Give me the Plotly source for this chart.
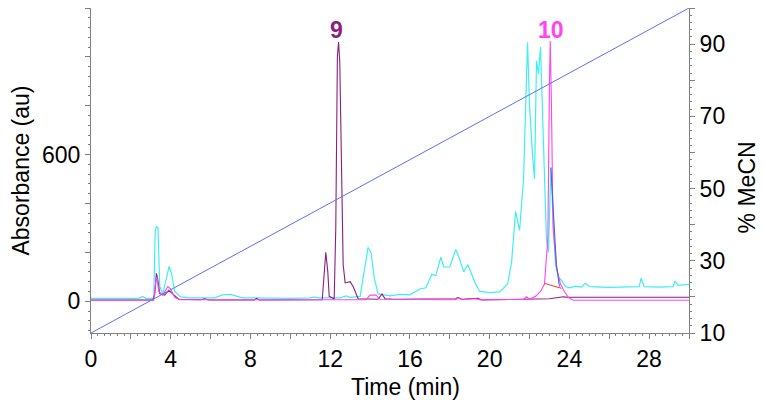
import plotly.graph_objects as go

# ---------------- data ----------------
cyan_t = [0, 2.4, 2.6, 2.75, 3.15, 3.22, 3.28, 3.36, 3.45, 3.6, 3.8, 3.92, 4.05, 4.2, 4.5, 5.0,
          6.2, 6.6, 7.0, 7.3, 7.6, 10.0, 11.0, 11.2, 11.4, 12.5, 12.8, 13.0, 13.5, 13.7, 13.9,
          14.05, 14.2, 14.4, 15.0, 15.5, 16.0, 16.5, 16.8, 17.1, 17.3, 17.55, 17.7, 18.0, 18.3,
          18.5, 18.7, 18.9, 19.1, 19.3, 19.5, 20.0, 20.5, 20.7, 20.9, 21.1, 21.3, 21.5, 21.7,
          21.9, 22.0, 22.15, 22.25, 22.35, 22.45, 22.55, 22.65, 22.75, 22.85, 22.95, 23.07,
          23.15, 23.3, 23.45, 23.6, 23.8, 24.0, 24.3, 24.6, 24.8, 25.0, 26.0, 27.0, 27.5, 27.6,
          27.75, 28.5, 29.2, 29.3, 29.45, 30.0]
cyan_v = [12, 12, 20, 12, 12, 290, 305, 300, 60, 30, 100, 143, 110, 40, 18, 14,
          14, 26, 28, 20, 14, 12, 14, 18, 14, 14, 22, 16, 20, 120, 220,
          200, 100, 30, 22, 28, 26, 50, 55, 110, 105, 180, 140, 140, 212,
          170, 120, 150, 110, 70, 40, 35, 38, 55, 70, 160, 368, 290, 500,
          1060, 800, 600, 500, 984, 930, 1040, 800, 500, 250, 200, 547,
          400, 150, 98, 86, 60, 55, 62, 58, 73, 60, 57, 57, 60, 94,
          60, 58, 60, 82, 65, 69]

purple_t = [0, 3.1, 3.2, 3.28, 3.35, 3.45, 3.7, 3.9, 4.1, 4.4, 5.5, 5.7, 5.9, 8.2, 8.3, 8.45,
            11.6, 11.7, 11.78, 11.88, 11.95, 12.2, 12.28, 12.36, 12.42, 12.48, 12.56, 12.65,
            12.75, 13.0, 13.15, 13.4, 14.4, 14.6, 14.75, 15.2, 18.3, 18.4, 18.6, 19.4, 19.6,
            21.5, 23.0, 23.7, 23.9, 24.5, 30.0]
purple_v = [5, 5, 30, 114, 90, 30, 25, 45, 30, 8, 6, 10, 5, 5, 12, 5,
            6, 120, 200, 120, 20, 10, 300, 1000, 1061, 980, 500, 150,
            75, 80, 60, 10, 8, 30, 10, 8, 10, 16, 8, 12, 5,
            8, 10, 18, 16, 16, 16]

magenta_t = [0, 3.15, 3.25, 3.3, 3.4, 3.6, 3.85, 4.0, 4.2, 4.5, 13.8, 14.0, 14.3, 14.5, 18.3,
             18.4, 18.6, 19.3, 19.5, 21.7, 21.85, 22.0, 22.3, 22.55, 22.75, 22.85, 22.92, 23.0,
             23.04, 23.1, 23.18, 23.35, 23.55, 23.75, 23.95, 24.2, 30.0]
magenta_v = [4, 4, 80, 100, 40, 25, 60, 50, 15, 6, 6, 25, 25, 8, 6,
             14, 6, 10, 6, 8, 18, 8, 20, 40, 70, 200, 260, 900,
             1065, 800, 300, 140, 70, 40, 15, 4, 4]

baseline_t = [22.75, 23.6]
baseline_v = [73, 53]

blue_peak_t = [23.07, 23.2, 23.35, 23.5]
blue_peak_v = [547, 350, 150, 60]

gradient_t = [0, 30]
gradient_pct = [10, 100]

x_tickvals = [0, 2, 4, 6, 8, 10, 12, 14, 16, 18, 20, 22, 24, 26, 28, 30]
x_ticktext = ["0", "", "4", "", "8", "", "12", "", "16", "", "20", "", "24", "", "28", ""]
y_tickvals = [0, 200, 400, 600, 800, 1000, 1200]
y_ticktext = ["0", "", "", "600", "", "", ""]
y2_tickvals = [10, 20, 30, 40, 50, 60, 70, 80, 90, 100]
y2_ticktext = ["10", "", "30", "", "50", "", "70", "", "90", ""]

peak_labels = ["9", "10"]
peak_label_t = [12.34, 23.08]
peak_label_y = [1112, 1112]

# ---------------- colours ----------------
C_CYAN = "#3FEFEF"
C_PURPLE = "#8B1F7F"
C_MAGENTA = "#FF44F0"
C_BLUE = "#5C70F0"
C_RED = "#FF3030"
AXIS = "#808080"

fig = go.Figure()
fig.add_trace(go.Scatter(x=cyan_t, y=cyan_v, mode="lines", line=dict(color=C_CYAN, width=1.2)))
fig.add_trace(go.Scatter(x=purple_t, y=purple_v, mode="lines", line=dict(color=C_PURPLE, width=1.1)))
fig.add_trace(go.Scatter(x=magenta_t, y=magenta_v, mode="lines", line=dict(color=C_MAGENTA, width=1.1)))
fig.add_trace(go.Scatter(x=baseline_t, y=baseline_v, mode="lines", line=dict(color=C_RED, width=1)))
fig.add_trace(go.Scatter(x=blue_peak_t, y=blue_peak_v, mode="lines", line=dict(color="#4060E0", width=1)))
fig.add_trace(go.Scatter(x=gradient_t, y=gradient_pct, mode="lines", yaxis="y2",
                         line=dict(color=C_BLUE, width=1)))

label_colors = [C_PURPLE, C_MAGENTA]
for txt, tx, ty, col in zip(peak_labels, peak_label_t, peak_label_y, label_colors):
    fig.add_annotation(x=tx, y=ty, text="<b>%s</b>" % txt, showarrow=False,
                       font=dict(size=23, color=col, family="Liberation Sans, Arial"))

FONT = dict(family="Liberation Sans, Arial", size=23, color="black")

# axis titles placed as paper annotations to match the reference offsets
fig.add_annotation(xref="paper", yref="paper", x=0.526, y=-0.166, text="Time (min)",
                   showarrow=False, xanchor="center", yanchor="middle", font=FONT)
fig.add_annotation(xref="paper", yref="paper", x=1.097, y=0.448, text="% MeCN",
                   showarrow=False, textangle=-90, xanchor="center", yanchor="middle", font=FONT)

fig.update_layout(
    width=756, height=401,
    margin=dict(l=83, r=75, t=0, b=76),
    paper_bgcolor="white", plot_bgcolor="white",
    showlegend=False,
    font=FONT,
    xaxis=dict(range=[0, 30], tickvals=x_tickvals, ticktext=x_ticktext, ticks="outside",
               ticklen=5, tickcolor=AXIS, showline=True, linecolor=AXIS, linewidth=1,
               mirror=True, showgrid=False, zeroline=False,
               minor=dict(dtick=1/3, tick0=0, ticks="outside", ticklen=2, tickcolor=AXIS)),
    yaxis=dict(range=[-130, 1200], tickvals=y_tickvals, ticktext=y_ticktext, ticks="outside",
               ticklen=5, tickcolor=AXIS, showline=True, linecolor=AXIS, linewidth=1,
               showgrid=False, zeroline=False,
               minor=dict(dtick=40, tick0=0, ticks="outside", ticklen=2, tickcolor=AXIS),
               title=dict(text="Absorbance (au)", font=FONT, standoff=14)),
    yaxis2=dict(range=[10, 100], overlaying="y", side="right", tickvals=y2_tickvals,
                ticktext=y2_ticktext, ticks="outside", ticklen=5, tickcolor=AXIS,
                showline=True, linecolor=AXIS, linewidth=1, showgrid=False, zeroline=False,
                minor=dict(dtick=2, tick0=10, ticks="outside", ticklen=2, tickcolor=AXIS)),
)

fig.write_html("out.html")
